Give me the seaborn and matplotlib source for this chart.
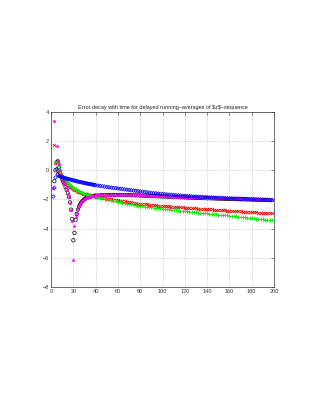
import numpy as np
import matplotlib
matplotlib.use("Agg")
import matplotlib.pyplot as plt
import seaborn as sns

# x grid: every step up to 40, then every 2nd step (markers overlap into a band)
n_early = list(range(1, 41))
n_late = list(range(42, 199, 2))
n = n_early + n_late

nan = np.nan

blue_early = [nan, -1.80, -1.20, -0.50, 0.08, -0.30, -0.38, -0.42, -0.45, -0.48,
              -0.50, -0.53, -0.55, -0.57, -0.59, -0.61, -0.63, -0.65, -0.67, -0.69,
              -0.71, -0.73, -0.75, -0.77, -0.79, -0.81, -0.82, -0.84, -0.86, -0.87,
              -0.89, -0.90, -0.92, -0.93, -0.95, -0.96, -0.98, -0.99, -1.01, -1.02]
blue_late = [-1.05, -1.07, -1.10, -1.12, -1.14, -1.16, -1.19, -1.21, -1.23, -1.25,
             -1.27, -1.29, -1.31, -1.33, -1.35, -1.37, -1.39, -1.41, -1.43, -1.45,
             -1.47, -1.49, -1.51, -1.53, -1.55, -1.57, -1.58, -1.60, -1.61, -1.63,
             -1.64, -1.66, -1.67, -1.68, -1.70, -1.71, -1.72, -1.73, -1.75, -1.76,
             -1.77, -1.78, -1.79, -1.80, -1.80, -1.81, -1.82, -1.83, -1.84, -1.85,
             -1.86, -1.86, -1.87, -1.88, -1.89, -1.90, -1.90, -1.91, -1.92, -1.93,
             -1.93, -1.94, -1.94, -1.95, -1.96, -1.96, -1.97, -1.97, -1.98, -1.99,
             -1.99, -2.00, -2.00, -2.01, -2.02, -2.02, -2.03, -2.04, -2.05]

red_early = [nan, nan, 1.70, 0.50, -0.10, 0.55, 0.05, -0.20, -0.33, -0.45,
             -0.58, -0.70, -0.80, -0.90, -0.98, -1.05, -1.12, -1.18, -1.24, -1.30,
             -1.34, -1.38, -1.42, -1.46, -1.50, -1.52, -1.55, -1.57, -1.60, -1.62,
             -1.64, -1.66, -1.68, -1.70, -1.72, -1.73, -1.75, -1.77, -1.78, -1.80]
red_late = [-1.83, -1.86, -1.88, -1.91, -1.94, -1.97, -1.99, -2.02, -2.04, -2.07,
            -2.09, -2.12, -2.14, -2.16, -2.19, -2.21, -2.23, -2.25, -2.28, -2.30,
            -2.31, -2.33, -2.34, -2.36, -2.37, -2.39, -2.40, -2.42, -2.43, -2.45,
            -2.46, -2.47, -2.48, -2.49, -2.50, -2.52, -2.53, -2.54, -2.55, -2.56,
            -2.57, -2.58, -2.59, -2.60, -2.61, -2.63, -2.64, -2.65, -2.66, -2.67,
            -2.68, -2.69, -2.70, -2.71, -2.72, -2.73, -2.74, -2.75, -2.76, -2.77,
            -2.78, -2.79, -2.80, -2.81, -2.82, -2.83, -2.84, -2.85, -2.86, -2.87,
            -2.88, -2.89, -2.90, -2.91, -2.91, -2.92, -2.93, -2.94, -2.96]

green_early = [nan, nan, nan, 0.55, 0.62, 0.55, 0.28, 0.02, -0.18, -0.34,
               -0.47, -0.58, -0.69, -0.79, -0.87, -0.95, -1.02, -1.08, -1.14, -1.20,
               -1.25, -1.30, -1.35, -1.40, -1.44, -1.48, -1.51, -1.54, -1.57, -1.60,
               -1.63, -1.65, -1.68, -1.70, -1.72, -1.74, -1.76, -1.78, -1.80, -1.82]
green_late = [-1.86, -1.90, -1.93, -1.97, -2.00, -2.04, -2.07, -2.11, -2.14, -2.18,
              -2.21, -2.23, -2.26, -2.29, -2.32, -2.34, -2.37, -2.40, -2.42, -2.45,
              -2.47, -2.49, -2.51, -2.53, -2.55, -2.56, -2.58, -2.60, -2.62, -2.64,
              -2.66, -2.67, -2.69, -2.70, -2.72, -2.74, -2.75, -2.77, -2.78, -2.80,
              -2.82, -2.83, -2.85, -2.86, -2.88, -2.90, -2.91, -2.93, -2.94, -2.96,
              -2.98, -2.99, -3.01, -3.02, -3.04, -3.06, -3.07, -3.09, -3.10, -3.12,
              -3.14, -3.15, -3.17, -3.18, -3.20, -3.22, -3.23, -3.25, -3.26, -3.28,
              -3.30, -3.31, -3.33, -3.35, -3.36, -3.38, -3.40, -3.41, -3.43]

magenta_early = [nan, -1.22, 3.40, nan, 1.65, 0.62, 0.45, 0.00, -0.30, -0.55,
                 -0.75, -0.95, -1.15, -1.35, -1.60, -1.85, -2.25, -2.75, -3.50, -6.15,
                 -3.85, -3.20, -2.90, -2.65, -2.45, -2.32, -2.20, -2.10, -2.03, -1.97,
                 -1.92, -1.88, -1.85, -1.82, -1.80, -1.78, -1.76, -1.75, -1.74, -1.73]
magenta_late = [-1.72, -1.71, -1.70, -1.69, -1.68, -1.68, -1.67, -1.67, -1.67, -1.67,
                -1.67, -1.67, -1.67, -1.68, -1.68, -1.69, -1.69, -1.70, -1.70, -1.71,
                -1.72, -1.72, -1.73, -1.74, -1.74, -1.75, -1.76, -1.76, -1.77, -1.78,
                -1.78, -1.79, -1.79, -1.80, -1.80, -1.81, -1.81, -1.82, -1.82, -1.83,
                -1.83, -1.84, -1.84, -1.85, -1.85, -1.86, -1.86, -1.87, -1.87, -1.88,
                -1.88, -1.88, -1.89, -1.89, -1.90, -1.90, -1.90, -1.91, -1.91, -1.92,
                -1.92, -1.92, -1.93, -1.93, -1.93, -1.94, -1.94, -1.94, -1.95, -1.95,
                -1.95, -1.96, -1.96, -1.96, -1.97, -1.97, -1.97, -1.98, -1.98]

black_early = [nan, nan, -0.75, 0.00, 0.55, 0.62, 0.20, -0.15, -0.40, -0.60,
               -0.78, -0.95, -1.15, -1.35, -1.58, -1.82, -2.20, -2.70, -3.35, -4.80,
               -4.30, -3.40, -3.00, -2.70, -2.50, -2.35, -2.22, -2.12, -2.05, -1.98,
               -1.93, -1.89, -1.86, -1.83, -1.81, -1.79, -1.77, -1.76, -1.75, -1.74]
black_late = [-1.73, -1.72, -1.71, -1.70, -1.70, -1.69, -1.69, -1.69, -1.69, -1.69,
              -1.69, -1.69, -1.69, -1.70, -1.70, -1.71, -1.71, -1.72, -1.72, -1.73,
              -1.74, -1.74, -1.75, -1.76, -1.76, -1.77, -1.78, -1.78, -1.79, -1.80,
              -1.80, -1.81, -1.82, -1.82, -1.83, -1.83, -1.84, -1.85, -1.85, -1.86,
              -1.87, -1.87, -1.88, -1.88, -1.89, -1.90, -1.90, -1.91, -1.91, -1.92,
              -1.92, -1.93, -1.93, -1.94, -1.94, -1.95, -1.95, -1.96, -1.96, -1.97,
              -1.97, -1.97, -1.98, -1.98, -1.99, -1.99, -1.99, -2.00, -2.00, -2.01,
              -2.01, -2.02, -2.02, -2.03, -2.03, -2.03, -2.04, -2.04, -2.05]

x_ticks = [0, 20, 40, 60, 80, 100, 120, 140, 160, 180, 200]
y_ticks = [-8, -6, -4, -2, 0, 2, 4]

sns.set_style("white")
plt.rcParams['font.family'] = ['Liberation Sans', 'DejaVu Sans']

fig = plt.figure(figsize=(3.15, 4.07), dpi=100)
ax = fig.add_axes([0.162, 0.295, 0.708, 0.430])

series = [
    (black_early + black_late, dict(marker='o', s=6, facecolors='none', edgecolor='black', linewidth=0.5)),
    (red_early + red_late, dict(marker='x', s=5, color='red', linewidth=0.6)),
    (green_early + green_late, dict(marker='+', s=7, color='#00ee00', linewidth=0.6)),
    (magenta_early + magenta_late, dict(marker='*', s=6, color='magenta', edgecolor='magenta', linewidth=0.3)),
    (blue_early + blue_late, dict(marker='D', s=3.5, facecolors='none', edgecolor='blue', linewidth=0.5)),
]
for vals, style in series:
    sns.scatterplot(x=n, y=vals, ax=ax, legend=False, **style)

ax.set_xlim(0, 200)
ax.set_ylim(-8, 4)
ax.set_xticks(x_ticks)
ax.set_yticks(y_ticks)
ax.grid(True, linestyle=':', linewidth=0.5, color='#b0b0b0')
ax.set_axisbelow(True)
ax.tick_params(direction='in', length=2, width=0.4, labelsize=4, pad=1.5,
               top=True, right=True, colors='#333333')
for sp in ax.spines.values():
    sp.set_linewidth(0.5)
    sp.set_color('#333333')

ax.set_title(r"Error decay with time for delayed running–averages of \$z\$–sequence",
             fontsize=4, pad=2, color='#222222')

fig.savefig("out.png", dpi=100)
